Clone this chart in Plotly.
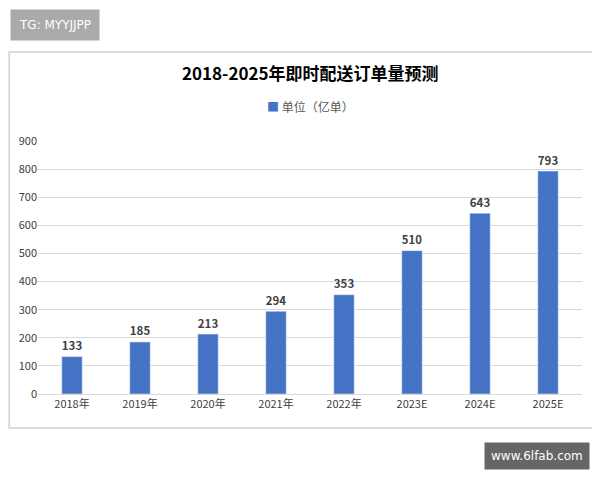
import plotly.graph_objects as go

years = ["2018年", "2019年", "2020年", "2021年", "2022年", "2023E", "2024E", "2025E"]
orders = [133, 185, 213, 294, 353, 510, 643, 793]

font = "Noto Sans CJK SC"
fig = go.Figure(go.Bar(
    x=years, y=orders, name="单位（亿单）",
    marker_color="#4472C4",
    text=[f"<b>{v}</b>" for v in orders], textposition="outside",
    textfont=dict(size=13, color="#404040", family=font),
    cliponaxis=False,
))

fig.update_layout(
    width=600, height=480,
    margin=dict(l=30, r=26, t=133, b=94),
    paper_bgcolor="white", plot_bgcolor="white",
    font=dict(family=font, color="#595959", size=11),
    bargap=0.7,
    showlegend=False,
    xaxis=dict(showline=True, linecolor="#d9d9d9", tickfont=dict(size=11, color="#404040")),
    yaxis=dict(range=[0, 900], dtick=100, gridcolor="#d9d9d9", zeroline=False,
               tickfont=dict(size=11, color="#404040")),
    shapes=[dict(type="rect", xref="paper", yref="paper", x0=-0.053, x1=1.02,
                 y0=-0.134, y1=1.352, line=dict(color="#d0d0d0", width=1.5))],
    annotations=[
        dict(text="<b>2018-2025年即时配送订单量预测</b>", xref="paper", yref="paper",
             x=0.5, y=1.328, showarrow=False, font=dict(size=17, color="#000000", family=font)),
        dict(text="<span style='color:#4472C4'>■</span> 单位（亿单）", xref="paper", yref="paper",
             x=0.5, y=1.138, yanchor="middle", showarrow=False,
             font=dict(size=12, color="#595959", family=font)),
        dict(text="TG: MYYJJPP", xref="paper", yref="paper", x=(10 - 38) / 544, y=(394 - 25) / 253,
             xanchor="left", yanchor="middle", showarrow=False, bgcolor="#aaaaaa",
             borderpad=8, font=dict(size=12, color="white", family="DejaVu Sans")),
        dict(text="www.6lfab.com", xref="paper", yref="paper", x=(590 - 38) / 544, y=(394 - 456) / 253,
             xanchor="right", yanchor="middle", showarrow=False, bgcolor="#666666",
             borderpad=6, font=dict(size=12, color="white", family="DejaVu Sans")),
    ],
)

fig.write_html("out.html")
